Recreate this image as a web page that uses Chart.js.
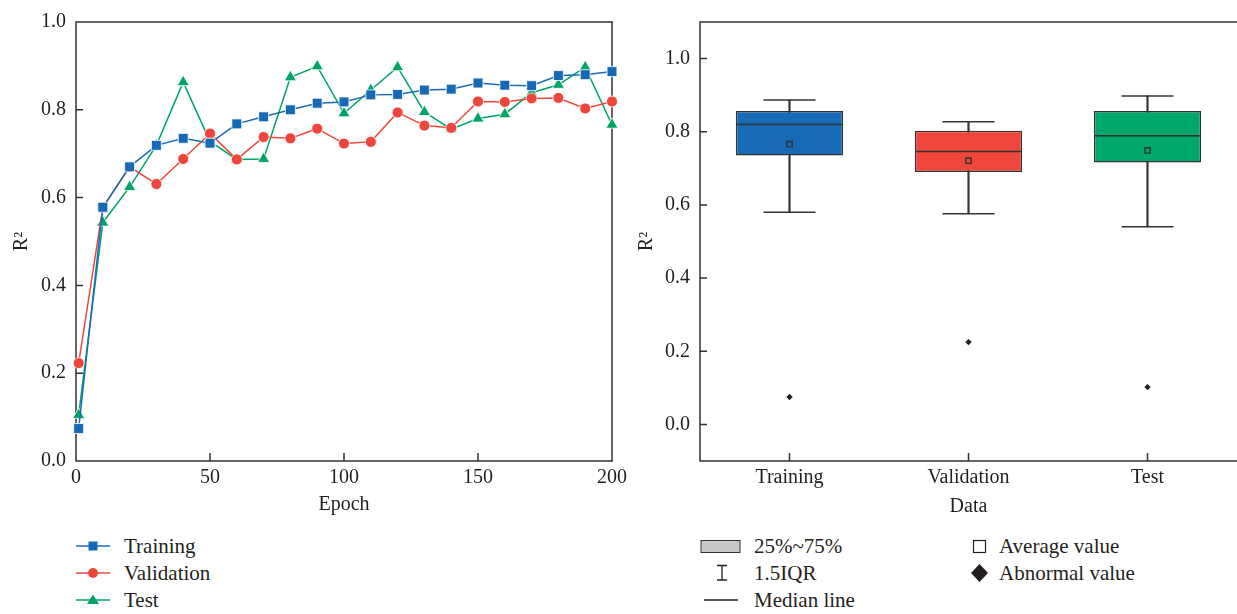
<!DOCTYPE html>
<html>
<head>
<meta charset="utf-8">
<script src="https://cdn.jsdelivr.net/npm/chart.js@4.4.1/dist/chart.umd.min.js"></script>
<style>
  body { margin: 0; background: #fff; }
  #wrap { position: relative; width: 1237px; height: 614px; overflow: hidden;
          font-family: 'Liberation Serif', 'Times New Roman', serif; color: #231f20; }
  .box { position: absolute; top: 0; height: 525px; }
  .row { position: absolute; height: 24px; line-height: 24px; font-size: 21px; white-space: nowrap; }
  .row svg { position: absolute; top: 0; }
  .row span { position: absolute; }
</style>
</head>
<body>
<div id="wrap">
  <div class="box" style="left:0;width:640px"><canvas id="lineChart"></canvas></div>
  <div class="box" style="left:630px;width:607px"><canvas id="boxChart"></canvas></div>

  <!-- line chart legend -->
  <div class="row" style="left:0;top:534px;width:300px">
    <svg style="left:74px" width="40" height="24"><line x1="2" y1="12" x2="36" y2="12" stroke="#1a6bb5" stroke-width="1.5"/><rect x="14.5" y="7.5" width="9" height="9" fill="#1669b5"/></svg>
    <span style="left:124px">Training</span>
  </div>
  <div class="row" style="left:0;top:561px;width:300px">
    <svg style="left:74px" width="40" height="24"><line x1="2" y1="12" x2="36" y2="12" stroke="#ef463c" stroke-width="1.5"/><circle cx="19" cy="12" r="5" fill="#ef463c"/></svg>
    <span style="left:124px">Validation</span>
  </div>
  <div class="row" style="left:0;top:588px;width:300px">
    <svg style="left:74px" width="40" height="24"><line x1="2" y1="12" x2="36" y2="12" stroke="#00a565" stroke-width="1.5"/><polygon points="19,6.5 25,16 13,16" fill="#00a565"/></svg>
    <span style="left:124px">Test</span>
  </div>

  <!-- box chart legend -->
  <div class="row" style="left:0;top:534px;width:1237px">
    <svg style="left:698px" width="46" height="24"><rect x="3" y="6.5" width="39" height="12" fill="#c8c8c8" stroke="#333" stroke-width="1"/></svg>
    <span style="left:754px">25%~75%</span>
    <svg style="left:970px" width="20" height="24"><rect x="3.5" y="6.5" width="12" height="12" fill="none" stroke="#231f20" stroke-width="1.2"/></svg>
    <span style="left:999px">Average value</span>
  </div>
  <div class="row" style="left:0;top:561px;width:1237px">
    <svg style="left:710px" width="24" height="24"><path d="M7 4.5 H17 M12 4.5 V19 M7 19 H17" stroke="#231f20" stroke-width="1.3" fill="none"/></svg>
    <span style="left:754px">1.5IQR</span>
    <svg style="left:969px" width="22" height="24"><polygon points="10.5,3 19,12 10.5,21 2,12" fill="#231f20"/></svg>
    <span style="left:999px">Abnormal value</span>
  </div>
  <div class="row" style="left:0;top:588px;width:1237px">
    <svg style="left:700px" width="42" height="24"><line x1="4" y1="12" x2="38" y2="12" stroke="#231f20" stroke-width="1.3"/></svg>
    <span style="left:754px">Median line</span>
  </div>
</div>

<script>
// Learning curves
const epochs = [1, 10, 20, 30, 40, 50, 60, 70, 80, 90, 100, 110, 120, 130, 140, 150, 160, 170, 180, 190, 200];
const trainR2 = [0.074, 0.578, 0.670, 0.719, 0.735, 0.724, 0.768, 0.784, 0.800, 0.815, 0.818, 0.834, 0.835, 0.845, 0.847, 0.861, 0.856, 0.855, 0.878, 0.880, 0.887];
const valR2 = [0.223, 0.577, 0.670, 0.631, 0.688, 0.746, 0.687, 0.738, 0.735, 0.757, 0.723, 0.727, 0.794, 0.764, 0.759, 0.819, 0.818, 0.826, 0.827, 0.803, 0.819];
const testR2 = [0.105, 0.543, 0.624, 0.719, 0.863, 0.728, 0.687, 0.688, 0.874, 0.899, 0.792, 0.845, 0.897, 0.795, 0.756, 0.780, 0.790, 0.839, 0.857, 0.897, 0.766];
const epochTicks = [0, 50, 100, 150, 200];
const r2Ticks = [0, 0.2, 0.4, 0.6, 0.8, 1.0];

// Box plot summary
const groups = ['Training', 'Validation', 'Test'];
const boxQ1 = [0.735, 0.690, 0.716];
const boxQ3 = [0.857, 0.803, 0.857];
const medians = [0.820, 0.746, 0.789];
const means = [0.766, 0.721, 0.749];
const whiskerLow = [0.580, 0.576, 0.540];
const whiskerHigh = [0.887, 0.827, 0.898];
const outliers = [0.075, 0.225, 0.102];

const ink = '#231f20';
const frame = '#333333';
const serif = "'Liberation Serif', 'Times New Roman', serif";
const axisFont = { family: serif, size: 20 };
Chart.defaults.color = ink;
Chart.defaults.font.family = serif;

// box frame + inward tick marks; right side skipped when it sits on the canvas edge
const frameTicks = {
  id: 'frameTicks',
  beforeDatasetsDraw(chart) {
    const { ctx, chartArea: a, scales } = chart;
    ctx.save();
    ctx.strokeStyle = frame;
    ctx.lineWidth = 1.5;
    ctx.beginPath();
    ctx.moveTo(a.right + 1, a.top);
    ctx.lineTo(a.left, a.top);
    ctx.lineTo(a.left, a.bottom);
    ctx.lineTo(a.right + 1, a.bottom);
    if (a.right < chart.width - 2) {
      ctx.moveTo(a.right, a.top);
      ctx.lineTo(a.right, a.bottom);
    }
    scales.x.ticks.forEach((t, i) => {
      const px = scales.x.getPixelForTick(i);
      ctx.moveTo(px, a.bottom);
      ctx.lineTo(px, a.bottom - 8);
    });
    scales.y.ticks.forEach((t, i) => {
      const py = scales.y.getPixelForTick(i);
      ctx.moveTo(a.left, py);
      ctx.lineTo(a.left + 7, py);
    });
    ctx.stroke();
    ctx.restore();
  }
};

function series(vals) {
  return vals.map((v, i) => ({ x: epochs[i], y: v }));
}

const noGrid = { display: false, drawTicks: false };
const fitX = s => { s.height = 64; s.paddingLeft = 0; s.paddingRight = 0; };

new Chart(document.getElementById('lineChart'), {
  type: 'line',
  data: {
    datasets: [
      { label: 'Training', data: series(trainR2), borderColor: '#1a6bb5', backgroundColor: '#1669b5',
        pointStyle: 'rect', pointRadius: 7, pointBorderColor: '#fff', pointBorderWidth: 0.8 },
      { label: 'Validation', data: series(valR2), borderColor: '#ef463c', backgroundColor: '#ef463c',
        pointStyle: 'circle', pointRadius: 5.5, pointBorderColor: '#fff', pointBorderWidth: 0.8 },
      { label: 'Test', data: series(testR2), borderColor: '#00a565', backgroundColor: '#00a565',
        pointStyle: 'triangle', pointRadius: 7, pointBorderColor: '#fff', pointBorderWidth: 0.8 }
    ]
  },
  options: {
    responsive: true, maintainAspectRatio: false, animation: false, events: [],
    layout: { autoPadding: false, padding: { top: 13, right: 28, left: 0, bottom: 0 } },
    datasets: { line: { borderWidth: 1.5, tension: 0, clip: false } },
    plugins: { legend: { display: false }, tooltip: { enabled: false } },
    scales: {
      x: {
        type: 'linear', min: 0, max: 200,
        grid: noGrid, border: { display: false },
        afterBuildTicks: s => { s.ticks = epochTicks.map(v => ({ value: v })); },
        afterFit: fitX,
        ticks: { font: axisFont, color: ink, padding: 5, maxRotation: 0 },
        title: { display: true, text: 'Epoch', font: axisFont, color: ink, padding: { top: 0, bottom: 8 } }
      },
      y: {
        min: 0, max: 1,
        grid: noGrid, border: { display: false },
        afterBuildTicks: s => { s.ticks = r2Ticks.map(v => ({ value: v })); },
        afterFit: s => { s.width = 76; },
        ticks: { font: axisFont, color: ink, padding: 10, callback: v => v.toFixed(1) },
        title: { display: true, text: 'R²', font: axisFont, color: ink, padding: { top: 10, bottom: 0 } }
      }
    }
  },
  plugins: [frameTicks]
});

const boxColors = ['#176ab5', '#ef463c', '#00a86b'];
const marker = (label, vals, style, radius, extra) => Object.assign({
  type: 'line', label: label, data: vals, showLine: false, pointStyle: style,
  pointRadius: radius, pointBorderColor: frame, pointBorderWidth: 1.5,
  pointBackgroundColor: 'rgba(0,0,0,0)', order: 1, clip: false
}, extra || {});

new Chart(document.getElementById('boxChart'), {
  type: 'bar',
  data: {
    labels: groups,
    datasets: [
      { label: 'whisker', data: groups.map((g, i) => [whiskerLow[i], whiskerHigh[i]]),
        backgroundColor: frame, barThickness: 1.5, grouped: false, order: 3 },
      { label: '25%~75%', data: groups.map((g, i) => [boxQ1[i], boxQ3[i]]),
        backgroundColor: boxColors, borderColor: frame, borderWidth: 1.5, borderSkipped: false,
        barPercentage: 0.6, categoryPercentage: 1, grouped: false, order: 2 },
      marker('cap high', whiskerHigh, 'line', 26),
      marker('cap low', whiskerLow, 'line', 26),
      marker('Median line', medians, 'line', 53.5),
      marker('Average value', means, 'rect', 3.8, { pointBorderWidth: 1.4 }),
      marker('Abnormal value', outliers, 'rectRot', 3.2, { pointBackgroundColor: ink, pointBorderColor: ink, pointBorderWidth: 0 })
    ]
  },
  options: {
    responsive: true, maintainAspectRatio: false, animation: false, events: [],
    layout: { autoPadding: false, padding: { top: 13, right: 0, left: 0, bottom: 0 } },
    plugins: { legend: { display: false }, tooltip: { enabled: false } },
    scales: {
      x: {
        grid: noGrid, border: { display: false },
        afterFit: fitX,
        ticks: { font: axisFont, color: ink, padding: 5, maxRotation: 0 },
        title: { display: true, text: 'Data', font: axisFont, color: ink, padding: { top: 0, bottom: 6 } }
      },
      y: {
        min: -0.1, max: 1.1,
        grid: noGrid, border: { display: false },
        afterBuildTicks: s => { s.ticks = r2Ticks.map(v => ({ value: v })); },
        afterFit: s => { s.width = 70; },
        ticks: { font: axisFont, color: ink, padding: 10, callback: v => v.toFixed(1) },
        title: { display: true, text: 'R²', font: axisFont, color: ink, padding: { top: 5, bottom: 0 } }
      }
    }
  },
  plugins: [frameTicks]
});
</script>
</body>
</html>
